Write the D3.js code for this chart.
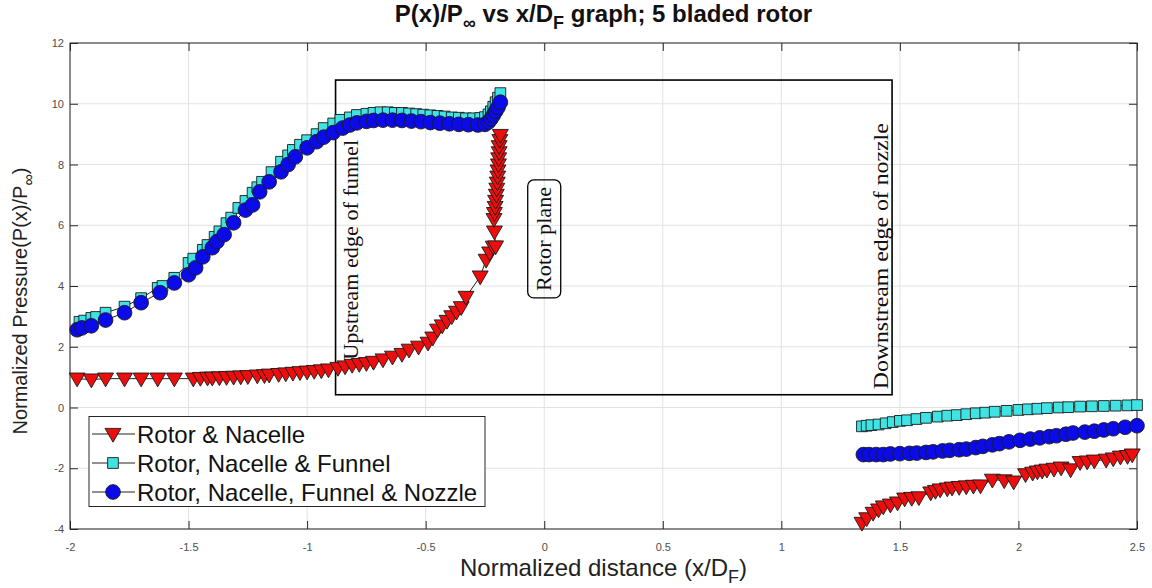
<!DOCTYPE html>
<html>
<head>
<meta charset="utf-8">
<script src="https://cdn.jsdelivr.net/npm/d3@7"></script>
<style>
  body { margin: 0; background: #fff; }
  svg { display: block; font-family: "Liberation Sans", Arial, sans-serif; }
  .tick text { font-size: 11px; fill: #4d4d4d; }
  .grid line { stroke: #e2e2e2; stroke-width: 1; }
  .note { font-family: "Liberation Serif", "DejaVu Serif", serif; font-size: 21px; fill: #111; }
</style>
</head>
<body>
<svg width="1152" height="588"></svg>
<script>
// Rotor & Nacelle (red down triangles)
let rnUp = [
  [-1.97, 0.95], [-1.91, 0.92], [-1.85, 0.95], [-1.77, 0.95], [-1.70, 0.95], [-1.63, 0.95],
  [-1.56, 0.95], [-1.48, 0.95], [-1.45, 0.97], [-1.42, 0.98], [-1.40, 0.98], [-1.37, 0.99],
  [-1.34, 1.0], [-1.31, 1.01], [-1.28, 1.02], [-1.25, 1.03], [-1.21, 1.05], [-1.18, 1.06],
  [-1.16, 1.08], [-1.12, 1.1], [-1.09, 1.12], [-1.06, 1.14], [-1.03, 1.16], [-1.0, 1.18],
  [-0.97, 1.2], [-0.94, 1.22], [-0.91, 1.25], [-0.87, 1.3], [-0.84, 1.35], [-0.81, 1.4],
  [-0.78, 1.43], [-0.75, 1.46], [-0.72, 1.5], [-0.68, 1.58], [-0.64, 1.67], [-0.60, 1.76],
  [-0.57, 1.9], [-0.53, 2.0], [-0.49, 2.13], [-0.47, 2.3], [-0.45, 2.56], [-0.43, 2.7],
  [-0.41, 2.85], [-0.39, 3.0], [-0.37, 3.15], [-0.35, 3.3], [-0.33, 3.64], [-0.27, 4.31],
  [-0.245, 4.86], [-0.23, 5.1], [-0.215, 5.29], [-0.205, 5.3], [-0.21, 5.79], [-0.212, 6.2],
  [-0.21, 6.4], [-0.207, 6.6], [-0.205, 6.8], [-0.202, 7.0], [-0.2, 7.2], [-0.198, 7.4],
  [-0.196, 7.6], [-0.195, 7.8], [-0.193, 8.0], [-0.192, 8.2], [-0.19, 8.4], [-0.19, 8.6],
  [-0.187, 8.8], [-0.185, 8.97]
];
let rnDown = [
  [1.34, -3.8], [1.36, -3.65], [1.387, -3.47], [1.41, -3.36], [1.43, -3.26], [1.46, -3.2],
  [1.49, -3.13], [1.52, -3.0], [1.55, -2.98], [1.58, -2.96], [1.63, -2.8], [1.65, -2.75],
  [1.67, -2.7], [1.70, -2.67], [1.72, -2.64], [1.75, -2.62], [1.78, -2.6], [1.81, -2.58],
  [1.84, -2.57], [1.89, -2.38], [1.94, -2.4], [1.98, -2.44], [2.03, -2.2], [2.06, -2.15],
  [2.08, -2.11], [2.10, -2.08], [2.12, -2.05], [2.15, -2.02], [2.18, -1.98], [2.22, -2.04],
  [2.26, -1.8], [2.29, -1.78], [2.32, -1.75], [2.37, -1.72], [2.40, -1.68], [2.43, -1.62],
  [2.46, -1.6], [2.48, -1.55]
];

// Rotor, Nacelle & Funnel (cyan squares)
let rnfUp = [
  [-1.96, 2.82], [-1.94, 2.86], [-1.91, 2.95], [-1.89, 2.98], [-1.85, 3.12], [-1.77, 3.32],
  [-1.70, 3.6], [-1.63, 3.94], [-1.61, 4.0], [-1.56, 4.27], [-1.50, 4.76], [-1.48, 4.9],
  [-1.44, 5.19], [-1.42, 5.35], [-1.39, 5.62], [-1.37, 5.8], [-1.34, 6.07], [-1.32, 6.25],
  [-1.29, 6.57], [-1.26, 6.8], [-1.23, 7.07], [-1.21, 7.25], [-1.19, 7.43], [-1.15, 7.75],
  [-1.11, 8.09], [-1.08, 8.3], [-1.06, 8.48], [-1.03, 8.65], [-1.0, 8.8], [-0.96, 9.0],
  [-0.93, 9.2], [-0.89, 9.35], [-0.86, 9.47], [-0.82, 9.55], [-0.79, 9.63], [-0.75, 9.67],
  [-0.72, 9.7], [-0.69, 9.72], [-0.66, 9.72], [-0.63, 9.7], [-0.60, 9.7], [-0.57, 9.68],
  [-0.54, 9.66], [-0.51, 9.64], [-0.48, 9.62], [-0.45, 9.6], [-0.42, 9.58], [-0.39, 9.55],
  [-0.36, 9.54], [-0.33, 9.52], [-0.30, 9.52], [-0.27, 9.53], [-0.25, 9.56], [-0.235, 9.65],
  [-0.225, 9.75], [-0.215, 9.9], [-0.205, 10.05], [-0.195, 10.2], [-0.185, 10.35]
];
let rnfDown = [
  [1.34, -0.62], [1.36, -0.6], [1.38, -0.58], [1.41, -0.56], [1.44, -0.52], [1.47, -0.48],
  [1.50, -0.44], [1.53, -0.42], [1.57, -0.38], [1.61, -0.34], [1.66, -0.3], [1.70, -0.27],
  [1.74, -0.25], [1.78, -0.22], [1.82, -0.19], [1.86, -0.17], [1.90, -0.14], [1.95, -0.11],
  [2.00, -0.08], [2.04, -0.06], [2.08, -0.04], [2.12, -0.02], [2.17, 0.0], [2.21, 0.01],
  [2.26, 0.03], [2.31, 0.04], [2.36, 0.05], [2.41, 0.06], [2.46, 0.07], [2.50, 0.08]
];

// Rotor, Nacelle, Funnel & Nozzle (blue circles)
let rnfnUp = [
  [-1.97, 2.56], [-1.95, 2.62], [-1.91, 2.69], [-1.85, 2.88], [-1.77, 3.12], [-1.70, 3.45],
  [-1.62, 3.78], [-1.56, 4.1], [-1.50, 4.37], [-1.47, 4.6], [-1.44, 4.96], [-1.40, 5.26],
  [-1.38, 5.46], [-1.35, 5.69], [-1.31, 6.08], [-1.26, 6.5], [-1.23, 6.67], [-1.20, 7.1],
  [-1.16, 7.43], [-1.11, 7.76], [-1.08, 8.0], [-1.05, 8.25], [-1.0, 8.55], [-0.96, 8.75],
  [-0.93, 8.9], [-0.89, 9.05], [-0.85, 9.2], [-0.82, 9.3], [-0.79, 9.37], [-0.75, 9.42],
  [-0.72, 9.45], [-0.68, 9.46], [-0.64, 9.46], [-0.60, 9.45], [-0.56, 9.43], [-0.52, 9.41],
  [-0.48, 9.38], [-0.44, 9.36], [-0.40, 9.34], [-0.36, 9.32], [-0.32, 9.31], [-0.28, 9.3],
  [-0.25, 9.32], [-0.235, 9.4], [-0.225, 9.5], [-0.215, 9.62], [-0.205, 9.75], [-0.195, 9.88],
  [-0.185, 10.05]
];
let rnfnDown = [
  [1.346, -1.55], [1.37, -1.55], [1.40, -1.55], [1.43, -1.55], [1.46, -1.53], [1.50, -1.52],
  [1.54, -1.51], [1.571, -1.5], [1.61, -1.48], [1.64, -1.46], [1.68, -1.43], [1.71, -1.41],
  [1.75, -1.39], [1.78, -1.37], [1.82, -1.32], [1.85, -1.28], [1.89, -1.23], [1.92, -1.19],
  [1.96, -1.13], [2.007, -1.08], [2.05, -1.04], [2.09, -1.0], [2.13, -0.96], [2.16, -0.93],
  [2.20, -0.88], [2.23, -0.84], [2.28, -0.81], [2.32, -0.78], [2.36, -0.74], [2.40, -0.7],
  [2.45, -0.65], [2.50, -0.6]
];

let xTicks = [-2, -1.5, -1, -0.5, 0, 0.5, 1, 1.5, 2, 2.5],
    yTicks = [-4, -2, 0, 2, 4, 6, 8, 10, 12];

let seriesNames = ["Rotor & Nacelle", "Rotor, Nacelle & Funnel", "Rotor, Nacelle, Funnel & Nozzle"];

let series = [
  { name: seriesNames[0], parts: [rnUp, rnDown], shape: "tri", fill: "#ee0d0d" },
  { name: seriesNames[1], parts: [rnfUp, rnfDown], shape: "sq", fill: "#3fe3e3" },
  { name: seriesNames[2], parts: [rnfnUp, rnfnDown], shape: "circ", fill: "#0b0bea" }
];

let svg = d3.select("svg"),
    pLeft = 70, pRight = 1137, pTop = 43, pBottom = 529;

let x = d3.scaleLinear().domain([-2, 2.5]).range([pLeft, pRight]);
let y = d3.scaleLinear().domain([-4, 12]).range([pBottom, pTop]);

// grid
let grid = svg.append("g").attr("class", "grid");
grid.selectAll(".gx").data(xTicks).join("line")
    .attr("x1", d => x(d)).attr("x2", d => x(d))
    .attr("y1", pTop).attr("y2", pBottom);
grid.selectAll(".gy").data(yTicks).join("line")
    .attr("y1", d => y(d)).attr("y2", d => y(d))
    .attr("x1", pLeft).attr("x2", pRight);

// axes, ticks point inward like matlab
let fmt = d => String(d);
svg.append("g")
    .attr("transform", `translate(0,${pBottom})`)
    .call(d3.axisBottom(x).tickValues(xTicks).tickFormat(fmt).tickSizeInner(-8).tickSizeOuter(0).tickPadding(14));
svg.append("g")
    .attr("transform", `translate(${pLeft},0)`)
    .call(d3.axisLeft(y).tickValues(yTicks).tickFormat(fmt).tickSizeInner(-8).tickSizeOuter(0).tickPadding(6));
svg.append("g")
    .attr("transform", `translate(0,${pTop})`)
    .call(d3.axisTop(x).tickValues(xTicks).tickFormat("").tickSizeInner(-8).tickSizeOuter(0));
svg.append("g")
    .attr("transform", `translate(${pRight},0)`)
    .call(d3.axisRight(y).tickValues(yTicks).tickFormat("").tickSizeInner(-8).tickSizeOuter(0));
svg.selectAll(".domain").remove();
svg.selectAll(".tick line").attr("stroke", "#262626");
svg.append("rect")
    .attr("x", pLeft).attr("y", pTop)
    .attr("width", pRight - pLeft).attr("height", pBottom - pTop)
    .attr("fill", "none").attr("stroke", "#262626").attr("stroke-width", 1);

// annotation box
svg.append("rect")
    .attr("x", x(-0.88)).attr("y", y(10.78))
    .attr("width", x(1.467) - x(-0.88)).attr("height", y(0.42) - y(10.78))
    .attr("fill", "none").attr("stroke", "#000").attr("stroke-width", 1.6);

let symbolFor = {
  tri: d3.symbol().type(d3.symbolTriangle).size(110),
  sq: d3.symbol().type(d3.symbolSquare).size(115),
  circ: d3.symbol().type(d3.symbolCircle).size(170)
};
let rot = s => s == "tri" ? " rotate(180)" : "";

let line = d3.line().x(d => x(d[0])).y(d => y(d[1]));

series.forEach(s => {
  let g = svg.append("g");
  s.parts.forEach(p => {
    g.append("path")
        .attr("d", line(p))
        .attr("fill", "none")
        .attr("stroke", "#222")
        .attr("stroke-width", 1);
    g.append("g").selectAll("path").data(p).join("path")
        .attr("d", symbolFor[s.shape])
        .attr("transform", d => `translate(${x(d[0])},${y(d[1]) + (s.shape == "tri" ? -1 : 0)})${rot(s.shape)}`)
        .attr("fill", s.fill)
        .attr("stroke", "#1a1a1a")
        .attr("stroke-width", 0.9);
  });
});

// rotated notes (serif, stretched to the reference lengths)
let note = (txt, xv, yv, len) => svg.append("text")
    .attr("class", "note")
    .attr("transform", `translate(${x(xv) + 7},${y(yv)}) rotate(-90)`)
    .attr("text-anchor", "middle")
    .attr("textLength", len)
    .attr("lengthAdjust", "spacingAndGlyphs")
    .text(txt);
note("Upstream edge of funnel", -0.815, 5.19, 220);
note("Downstream edge of nozzle", 1.42, 4.98, 266);
note("Rotor plane", 0, 5.55, 104);
svg.append("rect")
    .attr("x", x(0) - 16.5).attr("y", y(5.55) - 59)
    .attr("width", 33).attr("height", 118)
    .attr("rx", 6)
    .attr("fill", "none").attr("stroke", "#000").attr("stroke-width", 1.3);

// legend
let lg = svg.append("g");
lg.append("rect")
    .attr("x", 89).attr("y", 416.5).attr("width", 396).attr("height", 90)
    .attr("fill", "#fff").attr("stroke", "#262626").attr("stroke-width", 1);
series.forEach((s, i) => {
  let cy = 434 + i * 29;
  lg.append("line").attr("x1", 92).attr("x2", 135).attr("y1", cy).attr("y2", cy)
      .attr("stroke", "#222").attr("stroke-width", 1);
  lg.append("path")
      .attr("d", symbolFor[s.shape])
      .attr("transform", `translate(113,${cy + (s.shape == "tri" ? -1 : 0)})${rot(s.shape)}`)
      .attr("fill", s.fill).attr("stroke", "#1a1a1a").attr("stroke-width", 0.9);
  lg.append("text")
      .attr("x", 137).attr("y", cy + 8.5)
      .attr("font-size", 24).attr("fill", "#111")
      .text(s.name);
});

// title
let title = svg.append("text")
    .attr("x", (pLeft + pRight) / 2).attr("y", 22)
    .attr("text-anchor", "middle")
    .attr("font-size", 24).attr("font-weight", "bold").attr("fill", "#111");
title.append("tspan").text("P(x)/P");
title.append("tspan").attr("dy", 7).attr("font-size", 18).text("\u221e");
title.append("tspan").attr("dy", -7).text(" vs x/D");
title.append("tspan").attr("dy", 7).attr("font-size", 18).text("F");
title.append("tspan").attr("dy", -7).text(" graph; 5 bladed rotor");

// x label
let xl = svg.append("text")
    .attr("x", (pLeft + pRight) / 2).attr("y", 576)
    .attr("text-anchor", "middle")
    .attr("font-size", 24).attr("fill", "#222");
xl.append("tspan").text("Normalized distance (x/D");
xl.append("tspan").attr("dy", 7).attr("font-size", 18).text("F");
xl.append("tspan").attr("dy", -7).text(")");

// y label
let yl = svg.append("text")
    .attr("transform", `translate(27,${(pTop + pBottom) / 2 + 15}) rotate(-90)`)
    .attr("text-anchor", "middle")
    .attr("font-size", 20).attr("fill", "#222");
yl.append("tspan").text("Normalized Pressure(P(x)/P");
yl.append("tspan").attr("dy", 7).attr("font-size", 16).text("\u221e");
yl.append("tspan").attr("dy", -7).text(")");
</script>
</body>
</html>
